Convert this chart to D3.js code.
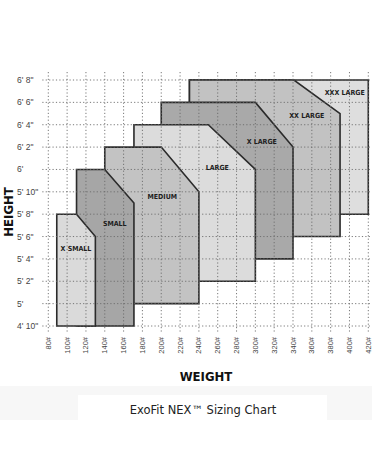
<!DOCTYPE html>
<html>
<head>
<meta charset="utf-8">
<script src="https://cdn.jsdelivr.net/npm/d3@7/dist/d3.min.js"></script>
<style>
  html, body { margin: 0; padding: 0; background: #fff; }
  svg { display: block; }
</style>
</head>
<body>
<svg id="chart" width="372" height="475"></svg>
<script>
// ---- data ----
const sizes          = ["XXX LARGE", "XX LARGE", "X LARGE", "LARGE", "MEDIUM", "SMALL", "X SMALL"];
const minWeight      = [230, 230, 200, 171, 140, 110, 89];
const shoulderWeight = [420, 341, 300, 250, 200, 140, 110];
const maxWeight      = [420, 390, 340, 300, 240, 171, 130];
const minHeight      = [68, 66, 64, 62, 60, 58, 58];   // inches
const shoulderHeight = [80, 77, 74, 72, 70, 69, 66];
const maxHeight      = [80, 80, 78, 76, 74, 72, 68];
const labelWeight    = [395, 354.7, 306.8, 259.6, 201.1, 150.6, 109.4];
const labelHeight    = [78.9, 76.8, 74.5, 72.2, 69.6, 67.2, 64.9];
const fills          = ["#dedede", "#c2c2c2", "#a9a9a9", "#dcdcdc", "#c3c3c3", "#a6a6a6", "#dadada"];

const weightTicks  = [80,100,120,140,160,180,200,220,240,260,280,300,320,340,360,380,400,420];
const weightLabels = ["80#","100#","120#","140#","160#","180#","200#","220#","240#","260#","280#","300#","320#","340#","360#","380#","400#","420#"];
const heightTicks  = [58,60,62,64,66,68,70,72,74,76,78,80];
const heightLabels = ["4' 10\"","5'","5' 2\"","5' 4\"","5' 6\"","5' 8\"","5' 10\"","6'","6' 2\"","6' 4\"","6' 6\"","6' 8\""];

const title = "ExoFit NEX\u2122 Sizing Chart";

// ---- drawing ----
const svg = d3.select("#chart");
const x = d3.scaleLinear().domain([80, 420]).range([48.3, 368.3]);
const y = d3.scaleLinear().domain([58, 80]).range([326, 80]);

// size polygons (largest first so smaller sizes sit on top)
const polys = sizes.map((s, i) => [
  [minWeight[i], minHeight[i]],
  [minWeight[i], maxHeight[i]],
  [shoulderWeight[i], maxHeight[i]],
  [maxWeight[i], shoulderHeight[i]],
  [maxWeight[i], minHeight[i]]
]);

svg.append("g").selectAll("path")
  .data(polys)
  .join("path")
  .attr("d", p => "M" + p.map(d => [x(d[0]), y(d[1])].join(",")).join("L") + "Z")
  .attr("fill", (d, i) => fills[i])
  .attr("stroke", "#2b2b2b")
  .attr("stroke-width", 1.6)
  .attr("stroke-linejoin", "miter");

// grid
const grid = svg.append("g")
  .attr("stroke", "#6a6a6a")
  .attr("stroke-width", 0.9)
  .attr("stroke-dasharray", "1.2,2.2");
grid.selectAll("line.v")
  .data(weightTicks)
  .join("line")
  .attr("class", "v")
  .attr("x1", d => x(d)).attr("x2", d => x(d))
  .attr("y1", y(80) - 8).attr("y2", y(58) + 6);
grid.selectAll("line.h")
  .data(heightTicks)
  .join("line")
  .attr("class", "h")
  .attr("x1", x(80) - 6).attr("x2", 372)
  .attr("y1", d => y(d)).attr("y2", d => y(d));

// y labels
svg.append("g").selectAll("text")
  .data(heightTicks)
  .join("text")
  .attr("x", 17)
  .attr("y", d => y(d))
  .attr("dy", "0.35em")
  .attr("font-family", "'Liberation Sans', Arial, sans-serif")
  .attr("font-size", 8.5)
  .attr("fill", "#444")
  .text((d, i) => heightLabels[i]);

// x labels (rotated)
svg.append("g").selectAll("text")
  .data(weightTicks)
  .join("text")
  .attr("transform", d => `translate(${x(d) + 2.5},${y(58) + 11}) rotate(-90)`)
  .attr("text-anchor", "end")
  .attr("font-family", "'Liberation Sans', Arial, sans-serif")
  .attr("font-size", 7.5)
  .attr("fill", "#444")
  .text((d, i) => weightLabels[i]);

// size labels
svg.append("g").selectAll("text")
  .data(sizes)
  .join("text")
  .attr("x", (d, i) => x(labelWeight[i]))
  .attr("y", (d, i) => y(labelHeight[i]))
  .attr("dy", "0.35em")
  .attr("text-anchor", "middle")
  .attr("font-family", "'DejaVu Sans Condensed', 'DejaVu Sans', sans-serif")
  .attr("font-weight", "bold")
  .attr("font-size", 7)
  .attr("fill", "#1e1e1e")
  .text(d => d);

// axis titles
svg.append("text")
  .attr("transform", "translate(13,212) rotate(-90)")
  .attr("text-anchor", "middle")
  .attr("font-family", "'DejaVu Sans Condensed', 'DejaVu Sans', sans-serif")
  .attr("font-weight", "900")
  .attr("font-size", 13)
  .attr("fill", "#111")
  .text("HEIGHT");

svg.append("text")
  .attr("x", 206)
  .attr("y", 381)
  .attr("text-anchor", "middle")
  .attr("font-family", "'DejaVu Sans Condensed', 'DejaVu Sans', sans-serif")
  .attr("font-weight", "900")
  .attr("font-size", 13)
  .attr("fill", "#111")
  .text("WEIGHT");

// title band
svg.append("rect").attr("x", 0).attr("y", 386).attr("width", 372).attr("height", 34).attr("fill", "#f7f7f7");
svg.append("rect").attr("x", 78).attr("y", 395).attr("width", 249).attr("height", 28).attr("fill", "#ffffff");
svg.append("text")
  .attr("x", 203)
  .attr("y", 414)
  .attr("text-anchor", "middle")
  .attr("font-family", "'DejaVu Sans', Verdana, sans-serif")
  .attr("font-size", 11.5)
  .attr("fill", "#222")
  .text(title);
</script>
</body>
</html>
